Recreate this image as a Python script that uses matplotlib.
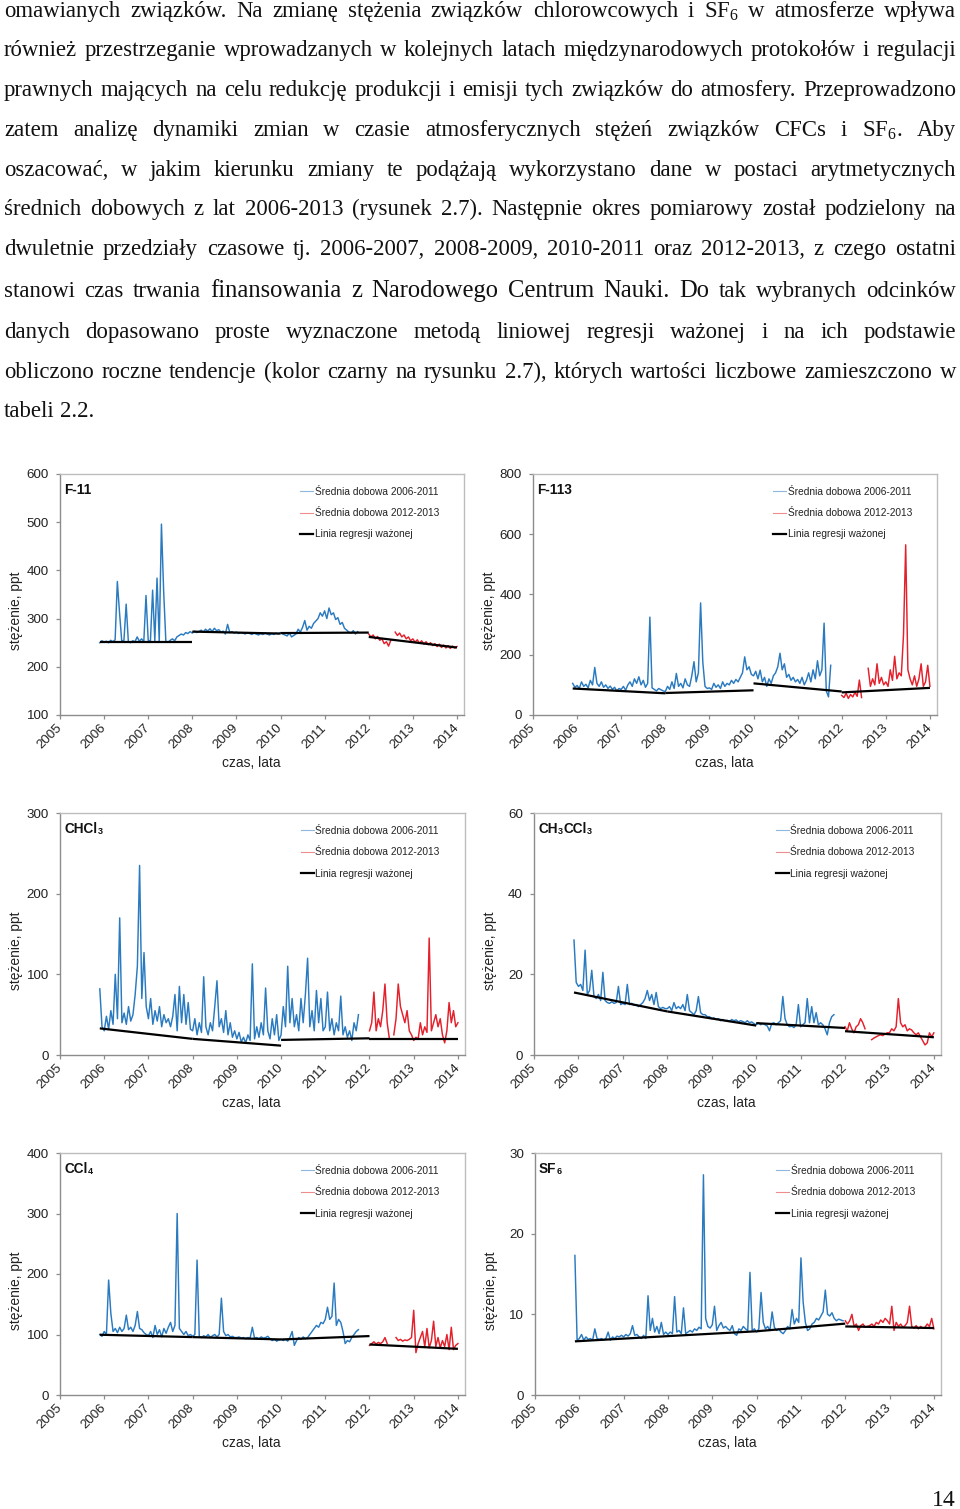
import numpy as np
import matplotlib
matplotlib.use("Agg")
import matplotlib.pyplot as plt
from matplotlib.lines import Line2D

nan = np.nan

# ------------------------------------------------------------------ text
TEXT_LINES = [
    r"omawianych związków. Na zmianę stężenia związków chlorowcowych i SF$_\mathregular{6}$ w atmosferze wpływa",
    "również przestrzeganie wprowadzanych w kolejnych latach międzynarodowych protokołów i regulacji",
    "prawnych mających na celu redukcję produkcji i emisji tych związków do atmosfery. Przeprowadzono",
    r"zatem analizę dynamiki zmian w czasie atmosferycznych stężeń związków CFCs i SF$_\mathregular{6}$. Aby",
    "oszacować, w jakim kierunku zmiany te podążają wykorzystano dane w postaci arytmetycznych",
    "średnich dobowych z lat 2006-2013 (rysunek 2.7).  Następnie okres pomiarowy został podzielony na",
    "dwuletnie przedziały czasowe tj. 2006-2007, 2008-2009, 2010-2011 oraz 2012-2013, z czego ostatni",
    "stanowi czas trwania finansowania z Narodowego Centrum Nauki. Do tak wybranych odcinków",
    "danych dopasowano proste wyznaczone metodą liniowej regresji ważonej i na ich podstawie",
    "obliczono roczne tendencje (kolor czarny na rysunku 2.7), których wartości liczbowe zamieszczono w",
    "tabeli 2.2.",
]
PAGE_NUMBER = "14"

# ------------------------------------------------------------------ data
YEAR_TICKS = list(range(2005, 2015))
BLUE_START = 2005.90          # first daily-mean sample shown (2006-2011 series)
RED_START = 2012.00           # first sample of the 2012-2013 series
STEP = 0.05
REG_X0 = [2005.9, 2008.0, 2010.0, 2012.0]
REG_X1 = [2008.0, 2010.0, 2012.0, 2014.0]

LEG_LABELS = ["Średnia dobowa 2006-2011", "Średnia dobowa 2012-2013", "Linia regresji ważonej"]

F11_BLUE = [250, 254,
    251, 253, 250, 255, 252, 256, 377, 312, 253, 255, 330, 252, 250, 254, 252, 262, 253, 258, 252, 348,
    255, 253, 359, 254, 384, 252, 496, 357, 253, 251, 255, 258, 254, 262, 265, 268, 266, 271, 269, 273,
    270, 274, 271, 273, 276, 272, 278, 274, 279, 273, 280, 275, 277, 272, 274, 268, 288, 271, 273, 270,
    272, 269, 271, 270, 268, 271, 269, 267, 270, 268, 266, 269, 267, 270, 268, 266, 269, 267, 270, 268,
    271, 268, 266, 264, 270, 262, 265, 268, 278, 272, 282, 296, 276, 284, 280, 290, 295, 300, 312, 305,
    316, 300, 322, 308, 312, 298, 302, 288, 292, 280, 276, 272, 270, 275, 268, 273, nan, nan, nan, 262]
F11_RED = [
    268, 262, 266, 258, 263, 255, 258, 248, 252, 243, 255, nan, 272, 265, 270, 262, 266, 258, 262, 254,
    258, 251, 256, 249, 254, 247, 252, 246, 250, 244, 248, 242, 247, 240, 245, 239, 244, 238, 243, 239,
    242]
F11_REG_Y0 = [252, 273, 270, 262]
F11_REG_Y1 = [252, 269, 271, 240]

F113_BLUE = [105, 92,
    98, 88, 110, 95, 102, 90, 115, 100, 158, 105, 95, 110, 92, 100, 88, 96, 85, 92, 80, 88,
    85, 95, 82, 100, 110, 95, 120, 105, 127, 100, 115, 92, 105, 325, 90, 85, 80, 88, 84, 80,
    78, 95, 85, 110, 88, 138, 95, 105, 90, 120, 100, 95, 130, 177, 110, 140, 372, 175, 95, 88,
    90, 85, 105, 92, 100, 88, 110, 95, 105, 100, 115, 105, 118, 110, 125, 140, 193, 150, 160, 135,
    130, 145, 120, 149, 110, 125, 95, 120, 105, 130, 140, 160, 205, 150, 170, 125, 135, 115, 125, 110,
    118, 105, 125, 100, 115, 140, 110, 150, 120, 180, 130, 150, 305, 80, 60, 165, nan, nan, nan, nan]
F113_RED = [
    65, 58, 72, 55, 68, 60, 75, 62, 116, 58, nan, nan, 155, 95, 120, 100, 170, 105, 125, 100,
    110, 95, 150, 115, 195, 120, 140, 130, 265, 565, 150, 120, 100, 130, 95, 120, 170, 95, 110, 165,
    95]
F113_REG_Y0 = [88, 73, 105, 75]
F113_REG_Y1 = [72, 82, 78, 90]

CHCL3_BLUE = [82, 35,
    30, 48, 32, 55, 38, 100, 45, 170, 40, 52, 38, 60, 42, 50, 75, 110, 235, 70, 127, 60,
    45, 70, 38, 55, 42, 60, 35, 50, 40, 45, 35, 48, 75, 30, 85, 40, 75, 38, 65, 32,
    30, 45, 25, 40, 28, 97, 35, 25, 40, 30, 60, 92, 35, 45, 28, 55, 25, 40, 22, 30,
    20, 28, 16, 22, 15, 25, 18, 113, 20, 35, 22, 40, 25, 83, 30, 20, 45, 25, 50, 18,
    25, 60, 35, 110, 40, 70, 35, 50, 30, 70, 40, 75, 120, 35, 55, 30, 80, 40, 70, 30,
    35, 78, 30, 45, 25, 40, 30, 73, 25, 35, 22, 30, 18, 40, 30, 50, nan, nan, nan, 32]
CHCL3_RED = [
    30, 40, 78, 30, 45, 35, 55, 88, 40, 20, nan, 25, 45, 88, 60, 50, 40, 55, 30, 25,
    18, 22, 20, 40, 25, 35, 28, 145, 30, 40, 50, 35, 45, 25, 15, 30, 65, 40, 55, 35,
    40]
CHCL3_REG_Y0 = [33, 20, 18.7, 19.5]
CHCL3_REG_Y1 = [20, 11.6, 20.7, 19.5]

CH3CCL3_BLUE = [28.5, 18,
    17, 17.5, 16, 26, 15, 16, 21, 14.5, 14, 15, 13.5, 20.5, 13.5, 13, 12.8, 13.2, 12.8, 13, 17, 12.5,
    12.8, 12.5, 17.5, 12.5, 12.8, 12.3, 12.5, 12, 12.5, 13, 14, 16, 13.5, 15, 12.5, 15.5, 12, 11.5, 11.8, 11.5,
    11.5, 12, 11, 13, 11.5, 12, 11.5, 12.5, 11, 15, 11, 10.5, 10, 11, 14.5, 10.5, 10, 10, 9.5, 9.5,
    9, 9.2, 8.8, 9, 8.5, 8.8, 8.5, 8.6, 8.3, 8.8, 8.5, 8.7, 8.2, 8.5, 8.3, 8, 8.5, 8, 8.2, 7.8,
    7.5, 8, 7.5, 7.8, 7.5, 7.2, 6, 7.8, 8, 7.5, 8, 8.5, 14.5, 9, 7.5, 7, 7.2, 6.8, 7.5, 12.5,
    7, 7.5, 8, 14, 8, 12, 8, 10.5, 7.5, 8, 7.5, 6.5, 5, 8, 9.5, 10, nan, nan, nan, 6]
CH3CCL3_RED = [
    7, 6, 8, 6.5, 5.5, 7, 7.5, 9, 8, 6.5, nan, nan, 3.8, 4.2, 4.5, 4.8, 5, 4.8, 5.2, 5.5,
    5.5, 6.5, 6, 7, 14, 8, 7, 7.5, 6, 6.5, 6.2, 5.5, 5, 5.5, 4.5, 3.5, 2.5, 3, 5.5, 4.5,
    5.5]
CH3CCL3_REG_Y0 = [15.5, 10.8, 7.9, 5.9]
CH3CCL3_REG_Y1 = [10.8, 7.3, 6.7, 4.4]

CCL4_BLUE = [100, 97,
    105, 100, 190, 135, 105, 110, 103, 112, 105, 110, 132, 108, 112, 105, 115, 138, 110, 108, 103, 100,
    98, 105, 95, 115, 100, 108, 96, 110, 102, 112, 120, 105, 115, 300, 110, 105, 100, 105, 98, 100,
    97, 100, 223, 97, 95, 98, 96, 100, 95, 98, 100, 96, 100, 160, 105, 98, 100, 96, 97, 95,
    95, 96, 94, 95, 93, 95, 94, 112, 94, 95, 93, 96, 94, 95, 97, 93, 90, 92, 89, 91,
    92, 90, 92, 89, 95, 105, 82, 90, 95, 92, 96, 93, 95, 100, 105, 110, 115, 112, 120, 118,
    125, 145, 125, 130, 185, 115, 125, 120, 105, 85, 90, 88, 95, 100, 105, 108, nan, nan, nan, nan]
CCL4_RED = [
    82, 85, 88, 84, 87, 85, 88, 95, 85, nan, nan, nan, 95, 90, 92, 89, 91, 90, 92, 95,
    140, 70, 85, 95, 105, 80, 110, 78, 90, 122, 80, 95, 78, 90, 80, 100, 75, 112, 75, 82,
    85]
CCL4_REG_Y0 = [99.6, 95.7, 91.8, 83.5]
CCL4_REG_Y1 = [95.7, 91.8, 97.4, 76.3]

SF6_BLUE = [17.3, 6.8,
    7, 7.5, 6.8, 7.2, 6.9, 7, 6.8, 8.2, 7, 6.9, 7, 6.8, 7, 7.8, 6.8, 7.2, 7, 7.3, 7.2, 7.4,
    7.2, 7.5, 7.3, 7.6, 8.6, 7.4, 7.5, 7.2, 7, 7.4, 7, 12.3, 8, 9.5, 7.8, 8.5, 7.6, 9, 7.5, 7.8,
    7.5, 7.8, 7.6, 12.2, 7.8, 8, 7.6, 10.8, 7.6, 7.8, 8, 7.8, 8.2, 8, 8.4, 8.2, 27.3, 9.5, 8.5, 8.3,
    8.7, 11, 8, 8.6, 9, 8.3, 8.5, 8.2, 8, 8.6, 7.6, 7.4, 8.2, 8, 8.5, 8.2, 8, 15.2, 8, 8.2,
    7.8, 8.2, 12.7, 9, 8.2, 8.5, 8, 10.3, 8.4, 8, 8.2, 7.8, 7.6, 8, 8.5, 8.2, 10.6, 8.8, 9.5, 9,
    17, 11.5, 9, 8, 8.2, 8.8, 9, 9.5, 9.3, 9.8, 10.3, 13, 10, 9.8, 10.2, 9.5, 9.2, 9.4, 9.3, 9.2]
SF6_RED = [
    9.2, 8.8, 9.2, 10, 8.5, 8.8, 8, 8.6, 8.8, 8.4, 8.5, 8.6, 8.8, 8.5, 9, 8.8, 9.3, 9, 9.5, 9.2,
    8.8, 11, 8, 9, 8.5, 8.8, 8.4, 8.6, 9, 11, 8.5, 8.3, 8.6, 8.2, 8.5, 8.3, 8.4, 8.8, 8.5, 9.5,
    8.2]
SF6_REG_Y0 = [6.65, 7.3, 7.9, 8.5]
SF6_REG_Y1 = [7.3, 7.9, 8.85, 8.3]

# ------------------------------------------------------------------ style
W, H = 960, 1509
SANS = "Liberation Sans"
SERIF = "Liberation Serif"
BLUE = "#2a7ac0"
RED = "#e3202b"
DARK_SPINE = "#8c8c8c"
LIGHT_SPINE = "#bdbdbd"
TXT = "#222222"

fig = plt.figure(figsize=(W / 100, H / 100), dpi=100)
fig.patch.set_facecolor("white")

CHARTS = [
    ([("F-11", False)], F11_BLUE, F11_RED, F11_REG_Y0, F11_REG_Y1, (100, 600), 100, (60, 474, 464, 715)),
    ([("F-113", False)], F113_BLUE, F113_RED, F113_REG_Y0, F113_REG_Y1, (0, 800), 200, (533, 474, 937, 715)),
    ([("CHCl", False), ("3", True)], CHCL3_BLUE, CHCL3_RED, CHCL3_REG_Y0, CHCL3_REG_Y1, (0, 300), 100, (60, 813, 465, 1055)),
    ([("CH", False), ("3", True), ("CCl", False), ("3", True)], CH3CCL3_BLUE, CH3CCL3_RED, CH3CCL3_REG_Y0, CH3CCL3_REG_Y1, (0, 60), 20, (534, 813, 941, 1055)),
    ([("CCl", False), ("4", True)], CCL4_BLUE, CCL4_RED, CCL4_REG_Y0, CCL4_REG_Y1, (0, 400), 100, (60, 1153, 465, 1395)),
    ([("SF", False), ("6", True)], SF6_BLUE, SF6_RED, SF6_REG_Y0, SF6_REG_Y1, (0, 30), 10, (535, 1153, 941, 1395)),
]


def title_segments(ax, segs):
    first = None
    prev = None
    for text, sub in segs:
        if prev is None:
            t = ax.text(0.01, 0.918, text, transform=ax.transAxes, fontsize=9.8,
                        fontweight="bold", family=SANS, color="#111111", va="baseline", ha="left")
            first = t
        else:
            t = ax.annotate(text, xy=(1, 0), xycoords=(prev, first),
                            xytext=(0.3, 0), textcoords="offset points",
                            fontsize=6.5 if sub else 9.8,
                            fontweight="bold", family=SANS, color="#111111", va="bottom", ha="left")
        prev = t


for segs, blue, red, ry0, ry1, ylim, ystep, (x0, y0, x1, y1) in CHARTS:
    ax = fig.add_axes([x0 / W, 1 - y1 / H, (x1 - x0) / W, (y1 - y0) / H])
    xb = BLUE_START + STEP * np.arange(len(blue))
    xr = RED_START + STEP * np.arange(len(red))
    ax.plot(xb, blue, color=BLUE, lw=1.05)
    ax.plot(xr, red, color=RED, lw=1.05)
    for a, b, c, d in zip(REG_X0, REG_X1, ry0, ry1):
        ax.plot([a, b], [c, d], color="black", lw=1.6, solid_capstyle="butt")
    ax.set_xlim(2005, 2014.16)
    ax.set_ylim(*ylim)
    ax.set_xticks(YEAR_TICKS)
    ax.set_xticklabels([str(y) for y in YEAR_TICKS], rotation=45, ha="right", va="center",
                       rotation_mode="anchor", fontsize=9.6, family=SANS, color=TXT)
    yt = np.arange(ylim[0], ylim[1] + 0.001, ystep)
    ax.set_yticks(yt)
    ax.set_yticklabels([str(int(v)) for v in yt], fontsize=9.6, family=SANS, color=TXT)
    ax.tick_params(axis="x", direction="out", length=3, width=0.9, color=DARK_SPINE, pad=5)
    ax.tick_params(axis="y", direction="out", length=3, width=0.9, color=DARK_SPINE, pad=5)
    for s in ("left", "bottom"):
        ax.spines[s].set_color(DARK_SPINE)
        ax.spines[s].set_linewidth(1.0)
    for s in ("top", "right"):
        ax.spines[s].set_color(LIGHT_SPINE)
        ax.spines[s].set_linewidth(1.0)
    ax.set_xlabel("czas, lata", fontsize=10, family=SANS, color=TXT)
    ax.set_ylabel("stężenie, ppt", fontsize=10, family=SANS, color=TXT)
    wpx = x1 - x0
    hpx = y1 - y0
    ax.xaxis.set_label_coords(0.473, -41 / hpx)
    ax.yaxis.set_label_coords(-37 / wpx, 104 / hpx)
    title_segments(ax, segs)
    handles = [Line2D([], [], color="#8fb8dc", lw=0.8),
               Line2D([], [], color="#ee8d8d", lw=0.8),
               Line2D([], [], color="black", lw=1.6)]
    leg = ax.legend(handles, LEG_LABELS, loc="upper left", bbox_to_anchor=(0.594, 0.947),
                    frameon=False, borderpad=0, borderaxespad=0, handlelength=1.3,
                    handletextpad=0.15, labelspacing=1.12,
                    prop={"family": SANS, "size": 7.3})
    for t in leg.get_texts():
        t.set_color(TXT)

# ------------------------------------------------------------------ paragraph (justified)
BASELINES = [17, 56, 96, 136, 176, 215, 255, 297, 338, 378, 417]
FS = 16.4
BIG = {(7, 3), (7, 4), (7, 5), (7, 6), (7, 7), (7, 8)}
LEFT, RIGHT = 4, 956
renderer = fig.canvas.get_renderer()
for li, line in enumerate(TEXT_LINES):
    words = line.split()
    y = 1 - BASELINES[li] / H
    arts = []
    for wi, w in enumerate(words):
        size = FS * (1.08 if (li, wi) in BIG else 1.0)
        arts.append(fig.text(0, y, w, fontsize=size, family=SERIF, color="#111111",
                             va="baseline", ha="left"))
    widths = [a.get_window_extent(renderer).width for a in arts]
    if li < len(TEXT_LINES) - 1 and len(words) > 1:
        gap = (RIGHT - LEFT - sum(widths)) / (len(words) - 1)
    else:
        gap = FS * 100 / 72 * 0.25
    x = LEFT
    for a, wd in zip(arts, widths):
        a.set_x(x / W)
        x += wd + gap

fig.text(956 / W, 1 - 1506 / H, PAGE_NUMBER, fontsize=17, family=SERIF, color="#111111",
         ha="right", va="baseline")

fig.savefig("out.png", dpi=100, facecolor="white")
